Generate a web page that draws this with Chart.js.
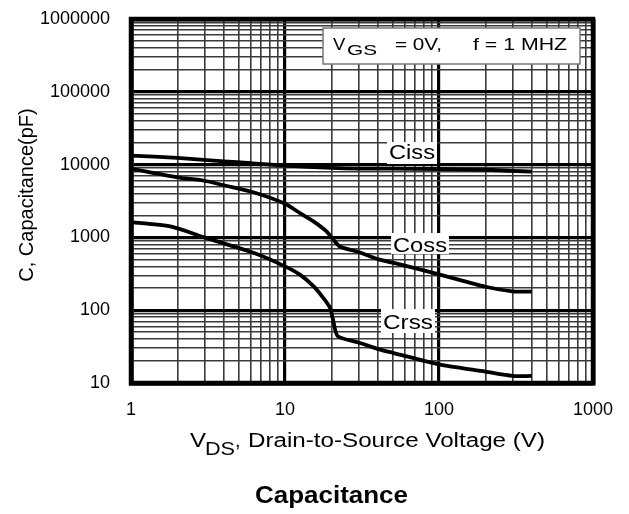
<!DOCTYPE html>
<html>
<head>
<meta charset="utf-8">
<script src="https://cdn.jsdelivr.net/npm/chart.js@4/dist/chart.umd.min.js"></script>
<style>
  html, body { margin: 0; padding: 0; background: #fff; }
  #wrap { width: 629px; height: 514px; }
</style>
</head>
<body>
<div id="wrap"><canvas id="c" width="629" height="514"></canvas></div>
<script>
// ---- data ----
const cissV = [1, 2, 4, 6, 10, 20, 30, 50, 100, 200, 300, 400];
const cissC = [13300, 12350, 11100, 10500, 9700, 9000, 8800, 8800, 8700, 8500, 8200, 8000];

const cossV = [1, 2, 3, 4, 6.3, 10, 12.5, 15.3, 18.6, 20.6, 22.7, 30, 41, 50, 100, 200, 300, 400];
const cossC = [8800, 6700, 6000, 5200, 4140, 2900, 2160, 1660, 1210, 930, 750, 630, 495, 450, 311, 210, 182, 180];

const crssV = [1, 1.8, 3, 6.3, 10, 12.5, 15.3, 17.7, 19.6, 20.6, 22, 30, 41, 50, 100, 200, 300, 400];
const crssC = [1620, 1415, 1000, 610, 400, 308, 214, 148, 108, 71, 44, 36, 29, 26, 18, 14.3, 12.5, 12.5];

const xDecades = [1, 10, 100, 1000];
const yDecades = [10, 100, 1000, 10000, 100000, 1000000];
const xTickLabels = ['1', '10', '100', '1000'];
const yTickLabels = ['10', '100', '1000', '10000', '100000', '1000000'];

// grid ticks: 1..9 x each decade
function gridTicks(decades) {
  const out = [];
  for (let i = 0; i < decades.length - 1; i++) {
    for (let k = 1; k <= 9; k++) out.push(decades[i] * k);
  }
  out.push(decades[decades.length - 1]);
  return out;
}
const xGrid = gridTicks(xDecades);
const yGrid = gridTicks(yDecades);

function toXY(xs, ys) { return xs.map((x, i) => ({ x: x, y: ys[i] })); }

function isDecade(v, decades) { return decades.some(d => Math.abs(d - v) / d < 1e-9); }
function labelFor(v, decades, labels) {
  for (let i = 0; i < decades.length; i++) if (Math.abs(decades[i] - v) / decades[i] < 1e-9) return labels[i];
  return '';
}

function gridWidth(v, decades) {
  if (Math.abs(v - decades[0]) / v < 1e-9 || Math.abs(v - decades[decades.length - 1]) / v < 1e-9) return 4.5;
  return isDecade(v, decades) ? 3.2 : 1.6;
}
function gridColor(v, decades) { return isDecade(v, decades) ? '#000' : '#3a3a3a'; }

// stretched text helper (x = left edge, y = baseline)
function sText(ctx, s, x, y, font, w) {
  ctx.save();
  ctx.font = font;
  const m = ctx.measureText(s).width;
  const sx = w ? w / m : 1;
  ctx.translate(x, y);
  ctx.scale(sx, 1);
  ctx.textAlign = 'left';
  ctx.textBaseline = 'alphabetic';
  ctx.fillStyle = '#000';
  ctx.fillText(s, 0, 0);
  ctx.restore();
}

const F = '"Liberation Sans", Arial, sans-serif';

const decor = {
  id: 'decor',
  beforeDatasetsDraw(chart) {
    const { ctx, chartArea: a } = chart;
    ctx.save();
    ctx.strokeStyle = '#000';
    ctx.lineWidth = 4.5;
    ctx.strokeRect(a.left, a.top, a.right - a.left, a.bottom - a.top);
    ctx.restore();
  },
  afterDraw(chart) {
    const ctx = chart.ctx;
    ctx.save();
    // condition box
    ctx.fillStyle = '#fff';
    ctx.fillRect(323, 28, 257, 36);
    ctx.strokeStyle = '#777';
    ctx.lineWidth = 1.5;
    ctx.strokeRect(323, 28, 257, 36);
    sText(ctx, 'V', 333, 50, '17px ' + F, 12.3);
    sText(ctx, 'GS', 347, 54.5, '15px ' + F, 30);
    sText(ctx, '= 0V,', 395, 50, '17px ' + F, 47);
    sText(ctx, 'f = 1 MHZ', 473, 50, '17px ' + F, 94);

    // curve labels
    ctx.fillStyle = '#fff';
    ctx.fillRect(387, 142, 50, 22);
    ctx.fillRect(391, 233, 58, 21);
    ctx.fillRect(381, 309, 54, 24);
    sText(ctx, 'Ciss', 389, 159, '20px ' + F, 46);
    sText(ctx, 'Coss', 393, 252, '20px ' + F, 54);
    sText(ctx, 'Crss', 383, 329, '20px ' + F, 50);

    // x axis title
    sText(ctx, 'V', 190, 447, '20px ' + F, 16);
    sText(ctx, 'DS', 205, 455, '18px ' + F, 30);
    sText(ctx, ',', 235, 447, '20px ' + F, 5.5);
    sText(ctx, 'Drain-to-Source Voltage (V)', 248, 447, '20px ' + F, 297);

    // y axis title
    ctx.save();
    ctx.translate(33, 195);
    ctx.rotate(-Math.PI / 2);
    ctx.font = '20px ' + F;
    ctx.fillStyle = '#000';
    ctx.textAlign = 'center';
    ctx.textBaseline = 'alphabetic';
    ctx.fillText('C, Capacitance(pF)', 0, 0);
    ctx.restore();

    // caption
    sText(ctx, 'Capacitance', 255, 503, 'bold 23px ' + F, 153);
    ctx.restore();
  }
};

const lineStyle = {
  borderColor: '#000',
  backgroundColor: '#000',
  borderWidth: 3.8,
  pointRadius: 0,
  fill: false,
  tension: 0.25,
  borderCapStyle: 'butt',
  borderJoinStyle: 'round'
};

new Chart(document.getElementById('c'), {
  type: 'line',
  data: {
    datasets: [
      Object.assign({ label: 'Ciss', data: toXY(cissV, cissC) }, lineStyle),
      Object.assign({ label: 'Coss', data: toXY(cossV, cossC) }, lineStyle),
      Object.assign({ label: 'Crss', data: toXY(crssV, crssC) }, lineStyle)
    ]
  },
  options: {
    responsive: false,
    animation: false,
    devicePixelRatio: 1,
    layout: { padding: { left: 0, top: 19, right: 36, bottom: 0 } },
    plugins: { legend: { display: false }, title: { display: false }, tooltip: { enabled: false } },
    scales: {
      x: {
        type: 'logarithmic',
        min: 1, max: 1000,
        afterBuildTicks: s => { s.ticks = xGrid.map(v => ({ value: v })); },
        afterFit: s => { s.height = 131; s.paddingLeft = 0; s.paddingRight = 0; },
        grid: {
          drawTicks: false,
          lineWidth: c => gridWidth(c.tick.value, xDecades),
          color: c => gridColor(c.tick.value, xDecades)
        },
        border: { display: true, color: '#000', width: 4.5 },
        ticks: {
          autoSkip: false, maxRotation: 0, minRotation: 0,
          padding: 16,
          color: '#000',
          font: { family: F, size: 18 },
          callback: v => labelFor(v, xDecades, xTickLabels)
        }
      },
      y: {
        type: 'logarithmic',
        min: 10, max: 1000000,
        afterBuildTicks: s => { s.ticks = yGrid.map(v => ({ value: v })); },
        afterFit: s => { s.width = 131; s.paddingTop = 0; s.paddingBottom = 0; },
        grid: {
          drawTicks: false,
          lineWidth: c => gridWidth(c.tick.value, yDecades),
          color: c => gridColor(c.tick.value, yDecades)
        },
        border: { display: true, color: '#000', width: 4.5 },
        ticks: {
          autoSkip: false,
          padding: 21,
          color: '#000',
          font: { family: F, size: 18 },
          callback: v => labelFor(v, yDecades, yTickLabels)
        }
      }
    }
  },
  plugins: [decor]
});
</script>
</body>
</html>
